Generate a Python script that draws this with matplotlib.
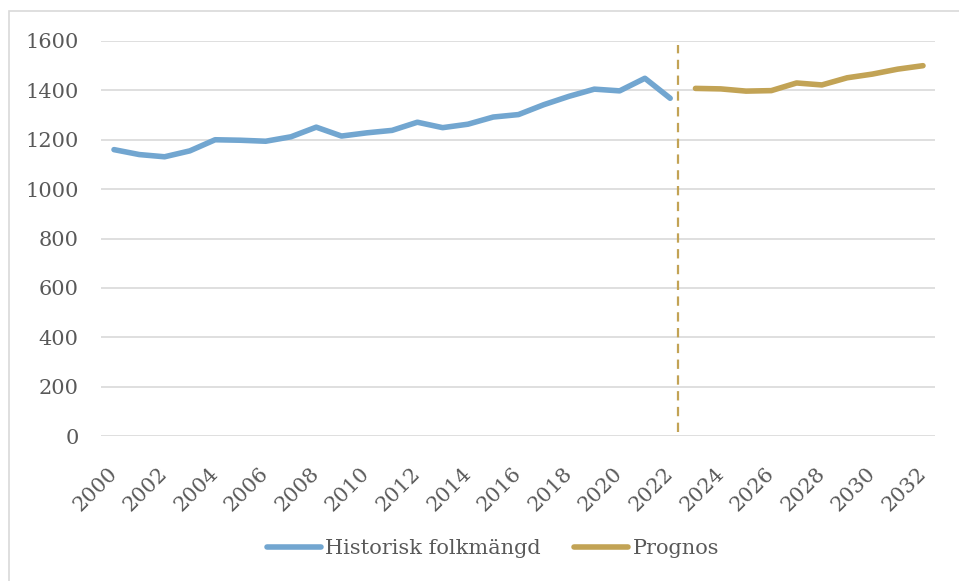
import matplotlib
matplotlib.use('Agg')
import matplotlib.pyplot as plt
from matplotlib.patches import Rectangle

hist_years = list(range(2000, 2023))
hist_values = [1160, 1140, 1131, 1155, 1200, 1198, 1194, 1212, 1251, 1215, 1228, 1238,
               1271, 1249, 1263, 1292, 1302, 1342, 1376, 1405, 1398, 1449, 1368]

prog_years = list(range(2023, 2033))
prog_values = [1408, 1406, 1397, 1399, 1430, 1422, 1451, 1466, 1486, 1500]

split_year = 2022.3
split_range = [16, 1583]

xticks = list(range(2000, 2033, 2))
yticks = list(range(0, 1601, 200))

blue = '#72A6D0'
gold = '#C2A355'
txt = '#595959'
grid = '#D9D9D9'

plt.rcParams['font.family'] = ['DejaVu Serif']

fig = plt.figure(figsize=(9.59, 5.81), dpi=100)
ax = fig.add_axes([101 / 959, 1 - 436 / 581, (935 - 101) / 959, (436 - 41) / 581])

ax.plot(hist_years, hist_values, color=blue, lw=4, solid_capstyle='round',
        solid_joinstyle='round', label='Historisk folkmängd', zorder=3)
ax.plot(prog_years, prog_values, color=gold, lw=4, solid_capstyle='round',
        solid_joinstyle='round', label='Prognos', zorder=3)
ax.plot([split_year, split_year], split_range, color=gold, lw=1.6,
        dashes=(4.2, 2.9), zorder=2)

ax.set_xlim(1999.486, 2032.475)
ax.set_ylim(0, 1600)
ax.set_xticks(xticks)
ax.set_yticks(yticks)
ax.set_xticklabels([str(y) for y in xticks], rotation=45, ha='right', va='center',
                   rotation_mode='anchor')
ax.tick_params(axis='x', length=0, pad=25, labelsize=15, labelcolor=txt)
ax.tick_params(axis='y', length=0, pad=16, labelsize=15, labelcolor=txt)
ax.yaxis.grid(True, color=grid, lw=1.2)
ax.set_axisbelow(True)
for s in ax.spines.values():
    s.set_visible(False)

fig.legend(loc='center', bbox_to_anchor=(493 / 959, 1 - 549 / 581), ncol=2,
           frameon=False, fontsize=15, labelcolor=txt, handlelength=2.6,
           handletextpad=0.2, columnspacing=1.6)

# light frame around the chart area
fig.patches.append(Rectangle((8.5 / 959, -0.1), 1.2, 1 - 11 / 581 + 0.1,
                             transform=fig.transFigure, fill=False,
                             edgecolor='#D9D9D9', lw=1.2))

fig.savefig('out.png', dpi=100)
